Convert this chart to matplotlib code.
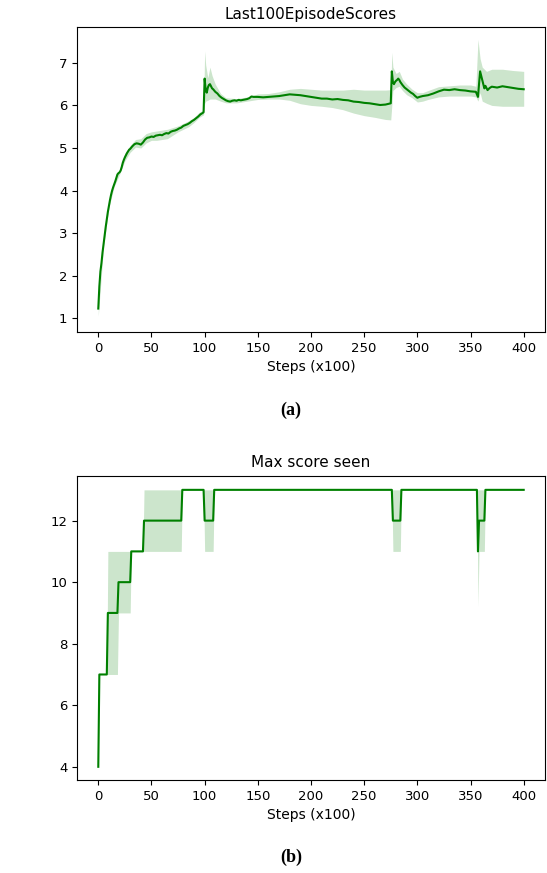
import numpy as np
import matplotlib
matplotlib.use("Agg")
import matplotlib.pyplot as plt

# --- (a) Last100EpisodeScores: mean line ---
steps_a = [0, 1, 2, 3, 4, 5, 6, 7, 8, 9, 10, 11, 12, 13, 14, 15, 16, 17, 18, 19,
           20, 21, 22, 23, 24, 25, 26, 27, 28, 29, 30, 32, 34, 36, 38, 40, 42, 44,
           46, 48, 50, 52, 54, 56, 58, 60, 62, 64, 66, 68, 70, 72, 74, 76, 78, 80,
           82, 84, 86, 88, 90, 92, 94, 96, 98, 99, 100, 101, 102, 103, 104, 105,
           106, 107, 108, 110, 112, 114, 116, 118, 120, 122, 124, 126, 128, 130,
           132, 134, 136, 138, 140, 142, 144, 146, 150, 155, 160, 165, 170, 175,
           180, 185, 190, 195, 200, 205, 210, 215, 220, 225, 230, 235, 240, 245,
           250, 255, 260, 265, 270, 275, 276, 277, 278, 279, 280, 281, 282, 283,
           284, 286, 288, 290, 292, 294, 296, 298, 300, 302, 305, 310, 315, 320,
           325, 330, 335, 340, 345, 350, 355, 357, 359, 360, 362, 363, 364, 366,
           368, 370, 375, 380, 385, 390, 395, 400]
score_a = [1.23, 1.75, 2.10, 2.30, 2.55, 2.75, 2.95, 3.15, 3.32, 3.50, 3.64, 3.78,
           3.90, 4.00, 4.08, 4.15, 4.22, 4.30, 4.38, 4.41, 4.43, 4.47, 4.55, 4.65,
           4.72, 4.78, 4.83, 4.88, 4.92, 4.96, 4.98, 5.04, 5.09, 5.11, 5.10, 5.08,
           5.13, 5.20, 5.24, 5.25, 5.27, 5.26, 5.29, 5.30, 5.31, 5.30, 5.33, 5.35,
           5.34, 5.38, 5.40, 5.41, 5.43, 5.46, 5.48, 5.52, 5.54, 5.56, 5.59, 5.63,
           5.66, 5.70, 5.74, 5.79, 5.82, 5.84, 6.63, 6.35, 6.30, 6.42, 6.48, 6.50,
           6.45, 6.40, 6.38, 6.32, 6.28, 6.22, 6.18, 6.15, 6.12, 6.10, 6.09, 6.11,
           6.12, 6.11, 6.13, 6.12, 6.13, 6.14, 6.15, 6.17, 6.21, 6.20, 6.20, 6.19,
           6.20, 6.21, 6.22, 6.24, 6.26, 6.25, 6.24, 6.22, 6.20, 6.18, 6.16, 6.16,
           6.14, 6.15, 6.13, 6.12, 6.09, 6.08, 6.06, 6.05, 6.03, 6.01, 6.02, 6.05,
           6.80, 6.55, 6.50, 6.55, 6.58, 6.60, 6.63, 6.60, 6.55, 6.48, 6.42, 6.38,
           6.34, 6.30, 6.27, 6.22, 6.18, 6.20, 6.22, 6.24, 6.28, 6.33, 6.37, 6.36,
           6.38, 6.36, 6.35, 6.33, 6.32, 6.20, 6.80, 6.70, 6.50, 6.40, 6.46, 6.36,
           6.41, 6.44, 6.42, 6.45, 6.43, 6.41, 6.39, 6.38]

# --- (a) shaded band ---
band_steps_a = [0, 5, 10, 15, 20, 25, 30, 35, 40, 45, 50, 55, 60, 65, 70, 75, 80,
                85, 90, 95, 99, 100, 101, 103, 105, 107, 110, 115, 120, 130, 140,
                150, 160, 170, 180, 190, 200, 210, 220, 230, 240, 250, 260, 270,
                275, 276, 277, 280, 283, 286, 290, 295, 300, 305, 310, 320, 330,
                340, 350, 355, 357, 359, 361, 365, 370, 380, 390, 400]
band_lo_a = [1.05, 2.70, 3.60, 4.10, 4.38, 4.70, 4.90, 5.02, 5.00, 5.12, 5.18, 5.18,
             5.20, 5.22, 5.30, 5.38, 5.44, 5.50, 5.60, 5.72, 5.78, 6.05, 6.10, 6.12,
             6.15, 6.15, 6.15, 6.10, 6.06, 6.06, 6.10, 6.14, 6.15, 6.15, 6.12, 6.04,
             6.00, 5.98, 5.95, 5.90, 5.82, 5.76, 5.72, 5.67, 5.66, 6.00, 6.35, 6.42,
             6.45, 6.35, 6.25, 6.18, 6.08, 6.10, 6.14, 6.20, 6.22, 6.22, 6.22, 6.20,
             6.10, 6.30, 6.10, 6.05, 6.00, 5.98, 5.98, 5.98]
band_hi_a = [1.30, 2.80, 3.70, 4.20, 4.50, 4.88, 5.06, 5.20, 5.22, 5.34, 5.38, 5.40,
             5.42, 5.44, 5.48, 5.52, 5.58, 5.64, 5.72, 5.84, 5.90, 7.28, 6.95, 6.65,
             6.90, 6.70, 6.50, 6.28, 6.18, 6.16, 6.20, 6.27, 6.28, 6.32, 6.38, 6.40,
             6.38, 6.36, 6.36, 6.36, 6.38, 6.36, 6.36, 6.36, 6.37, 7.25, 6.90, 6.75,
             6.80, 6.62, 6.50, 6.38, 6.30, 6.30, 6.35, 6.44, 6.46, 6.48, 6.48, 6.45,
             7.55, 7.10, 6.90, 6.80, 6.85, 6.85, 6.82, 6.80]

# --- (b) Max score seen ---
steps_b = [0, 1, 8, 9, 18, 19, 30, 31, 42, 43, 78, 79, 99, 100, 108, 109,
           276, 277, 284, 285, 356, 357, 358, 363, 364, 400]
score_b = [4, 7, 7, 9, 9, 10, 10, 11, 11, 12, 12, 13, 13, 12, 12, 13,
           13, 12, 12, 13, 13, 11, 12, 12, 13, 13]
band_lo_b = [4, 7, 7, 7, 7, 9, 9, 11, 11, 11, 11, 13, 13, 11, 11, 13,
             13, 11, 11, 13, 13, 9.2, 11, 11, 13, 13]
band_hi_b = [4, 7, 7, 11, 11, 11, 11, 11, 11, 13, 13, 13, 13, 13, 13, 13,
             13, 13, 13, 13, 13, 13, 13, 13, 13, 13]

fig = plt.figure(figsize=(5.47, 8.73), dpi=100)
ax1 = fig.add_axes([0.1408, 0.6197, 0.8555, 0.3493])
ax2 = fig.add_axes([0.1408, 0.1065, 0.8555, 0.3486])

ax1.fill_between(band_steps_a, band_lo_a, band_hi_a, color="green", alpha=0.2, lw=0)
ax1.plot(steps_a, score_a, color="green", lw=1.5)
ax1.set_xlim(-20, 420)
ax1.set_ylim(0.68, 7.84)
ax1.set_title("Last100EpisodeScores", fontsize=11)
ax1.set_xlabel("Steps (x100)", fontsize=10)

ax2.fill_between(steps_b, band_lo_b, band_hi_b, color="green", alpha=0.2, lw=0)
ax2.plot(steps_b, score_b, color="green", lw=1.5)
ax2.set_xlim(-20, 420)
ax2.set_ylim(3.57, 13.46)
ax2.set_title("Max score seen", fontsize=11)
ax2.set_xlabel("Steps (x100)", fontsize=10)
ax2.set_yticks([4, 6, 8, 10, 12])

for ax in (ax1, ax2):
    ax.set_xticks(np.arange(0, 401, 50))
    ax.tick_params(labelsize=9.5)

fig.text(0.532, 0.530, "(a)", ha="center", va="center", fontsize=13,
         fontweight="bold", family="Liberation Serif")
fig.text(0.532, 0.018, "(b)", ha="center", va="center", fontsize=13,
         fontweight="bold", family="Liberation Serif")

fig.savefig("out.png", dpi=100)
